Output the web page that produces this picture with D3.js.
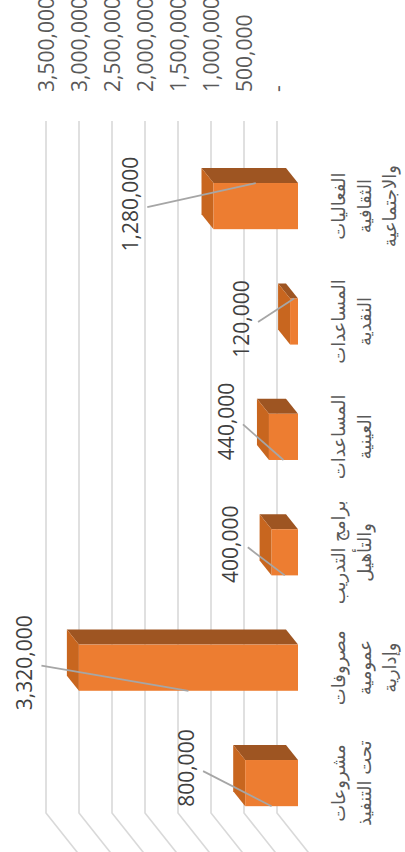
<!DOCTYPE html>
<html><head><meta charset="utf-8">
<script src="https://cdn.jsdelivr.net/npm/d3@7"></script>
<style>html,body{margin:0;padding:0;background:#fff;overflow:hidden}</style>
</head><body>
<script>
// ---- data ----
const categories = ["الفعاليات الثقافية والاجتماعية", "المساعدات النقدية", "المساعدات العينية", "برامج التدريب والتأهيل", "مصروفات عمومية وإدارية", "مشروعات تحت التنفيذ"];
const categoryLines = [["الفعاليات", "الثقافية", "والاجتماعية"], ["المساعدات", "النقدية"], ["المساعدات", "العينية"], ["برامج التدريب", "والتأهيل"], ["مصروفات", "عمومية", "وإدارية"], ["مشروعات", "تحت التنفيذ"]];
const values = [1280000, 120000, 440000, 400000, 3320000, 800000];
const valueLabels = ["1,280,000", "120,000", "440,000", "400,000", "3,320,000", "800,000"];
const tickValues = [0, 500000, 1000000, 1500000, 2000000, 2500000, 3000000, 3500000];
const tickLabels = ["-", "500,000", "1,000,000", "1,500,000", "2,000,000", "2,500,000", "3,000,000", "3,500,000"];
const title = "توزيع المصروفات";

// ---- layout (not data) ----
const W = 405, H = 852;
const labelOffsets = [[-125.5, -2, 0], [-53, -2.5, 0], [-57.5, -15.5, 1], [-54, -8, 1], [-164, -5, 1], [-85.5, -15, 1]];
const depth = {back: [9, 12], front: [21, 27]};
const colors = {front: "#ED7D31", top: "#9E5522", side: "#C8661F", grid: "#D9D9D9", leader: "#A6A6A6"};

const svg = d3.select("body").append("svg").attr("width", W).attr("height", H)
  .style("font-family", "'Open Sans', 'DejaVu Sans', sans-serif");

const x = d3.scaleLinear().domain([0, 3500000]).range([277, 46]);
const y = d3.scaleBand().domain(categories).range([148.4, 840.8]).paddingInner(0.6).paddingOuter(0.3);
const gridTop = 121, gridBottom = 813;

// gridlines on wall + floor diagonals
const grid = svg.append("g");
grid.selectAll("path").data(tickValues).join("path")
  .attr("d", d => `M${x(d)},${gridTop}V${gridBottom}l${31 * 2},${39 * 2}`)
  .attr("fill", "none").attr("stroke", colors.grid).attr("stroke-width", 1.6);

// value axis labels
const axis = d3.axisTop(x).tickValues(tickValues).tickFormat((d, i) => tickLabels[i]).tickSize(0);
const ag = svg.append("g").attr("transform", "translate(0,92)").call(axis);
ag.select(".domain").remove();
ag.selectAll("text").attr("x", 0).attr("y", 0).attr("dy", "0.36em")
  .attr("transform", "rotate(-90)").attr("text-anchor", "start")
  .attr("fill", "#595959").style("font-size", "21px").style("font-family", "'Open Sans', sans-serif");

// bars (3D boxes)
const fdx = depth.front[0], fdy = depth.front[1];
const bdx = depth.back[0] - fdx, bdy = depth.back[1] - fdy; // back relative to front
const h = y.bandwidth();
const bars = svg.append("g").selectAll("g").data(categories).join("g");
bars.each(function (c, i) {
  const g = d3.select(this);
  const xL = x(values[i]) + fdx, xR = x(0) + fdx, y0 = y(c);
  g.append("path").attr("fill", colors.top)
    .attr("d", `M${xL + bdx},${y0 + bdy}L${xR + bdx},${y0 + bdy}L${xR},${y0}L${xL},${y0}Z`);
  g.append("path").attr("fill", colors.side)
    .attr("d", `M${xL + bdx},${y0 + bdy}L${xL},${y0}L${xL},${y0 + h}L${xL + bdx},${y0 + h + bdy}Z`);
  g.append("rect").attr("fill", colors.front).attr("x", xL).attr("y", y0).attr("width", xR - xL).attr("height", h);
});

// data labels with leader lines
categories.forEach((c, i) => {
  const xL = x(values[i]) + fdx, xR = x(0) + fdx, y0 = y(c);
  const mx = (xL + xR) / 2, my = y0 + h / 2;
  const [ox, oy, edge] = labelOffsets[i];
  const lx = mx + ox, ly = my + oy;
  svg.append("line").attr("x1", lx + 17).attr("y1", ly + 3).attr("x2", mx).attr("y2", edge ? y0 + h : y0)
    .attr("stroke", colors.leader).attr("stroke-width", 1.8);
  svg.append("text").attr("transform", `translate(${lx},${ly}) rotate(-90)`)
    .attr("text-anchor", "middle").attr("dy", "0.36em")
    .attr("fill", "#404040").style("font-size", "21px").text(valueLabels[i]);
});

// category labels
const cl = svg.append("g");
categories.forEach((c, i) => {
  const t = cl.append("text")
    .attr("transform", `translate(339,${y(c) + h / 2}) rotate(-90)`)
    .attr("text-anchor", "middle").attr("direction", "rtl")
    .attr("fill", "#595959").style("font-size", "18px").style("font-family", "'DejaVu Sans', sans-serif");
  categoryLines[i].forEach((ln, j) => {
    t.append("tspan").attr("x", 0).attr("y", j * 25.5).attr("dy", "0.35em").text(ln);
  });
});

// title (mostly outside the visible area, as in the reference)
svg.append("text").attr("transform", `translate(-8,435) rotate(-90)`)
  .attr("text-anchor", "middle").attr("fill", "#595959").style("font-size", "28px")
  .style("font-family", "'DejaVu Sans', sans-serif").text(title);
</script>
</body></html>
